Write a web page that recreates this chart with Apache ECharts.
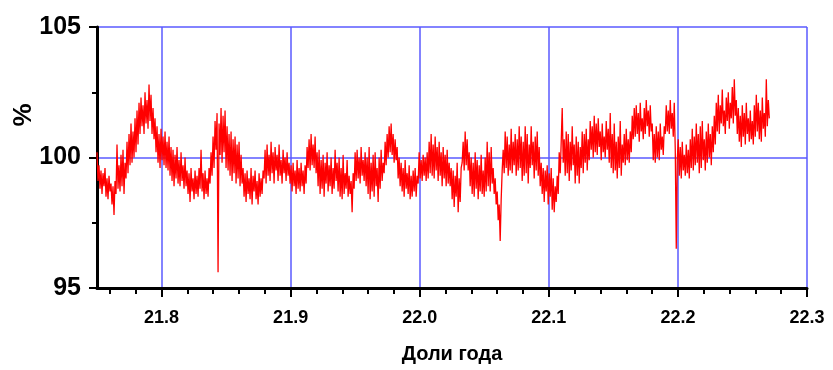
<!DOCTYPE html>
<html>
<head>
<meta charset="utf-8">
<script src="https://cdn.jsdelivr.net/npm/echarts@6/dist/echarts.min.js"></script>
<style>
html, body { margin: 0; padding: 0; background: #fff; }
#main { width: 833px; height: 370px; }
</style>
</head>
<body>
<div id="main"></div>
<script>
// time axis (fractions of year): first sample and step between samples
var X0 = 21.75;
var DX = 0.000775;

// relative value, %
var PCT = [
  100.2, 99.1, 99.7, 98.8, 99.5, 98.6, 99.4, 98.9, 99.6, 98.5,
  99.2, 98.4, 99.3, 98.7, 99.0, 98.2, 98.9, 97.8, 99.1, 98.6,
  100.5, 98.8, 99.7, 98.7, 100.1, 98.9, 100.3, 98.6, 99.8, 99.2,
  100.6, 99.4, 100.9, 99.7, 101.3, 99.8, 101.0, 100.0, 101.5, 100.2,
  101.8, 100.5, 102.1, 100.9, 102.3, 101.2, 102.0, 100.9, 102.5, 101.3,
  102.2, 101.1, 102.8, 101.4, 102.4, 100.9, 101.9, 100.7, 101.5, 100.2,
  101.2, 99.8, 100.9, 99.6, 101.1, 99.9, 100.8, 99.7, 101.0, 99.6,
  100.6, 99.5, 100.8, 99.3, 100.4, 99.1, 100.3, 98.9, 100.1, 99.2,
  100.4, 99.0, 99.9, 98.9, 100.2, 99.1, 99.7, 98.8, 100.0, 98.9,
  99.5, 98.6, 99.4, 98.3, 99.6, 98.7, 99.2, 98.4, 99.5, 98.6,
  99.3, 98.5, 99.6, 98.8, 100.3, 98.7, 99.4, 98.4, 99.5, 98.6,
  99.2, 98.5, 99.6, 99.0, 100.2, 99.3, 100.8, 99.6, 101.4, 100.3,
  101.7, 95.6, 101.3, 100.1, 101.9, 99.8, 101.6, 100.2, 101.8, 99.6,
  101.2, 99.5, 100.9, 99.3, 101.0, 99.1, 100.7, 99.4, 100.8, 99.0,
  100.5, 99.2, 100.6, 98.9, 100.1, 99.0, 99.6, 98.5, 99.4, 98.3,
  99.5, 98.6, 99.2, 98.4, 99.6, 98.2, 99.3, 98.7, 99.5, 98.4,
  99.1, 98.2, 99.4, 98.5, 99.2, 98.6, 99.5, 99.2, 100.3, 99.0,
  100.5, 99.3, 100.1, 99.1, 100.6, 99.4, 100.2, 99.0, 100.4, 99.5,
  100.1, 99.1, 100.5, 99.3, 99.9, 99.0, 100.3, 99.4, 100.0, 99.1,
  100.2, 99.3, 99.8, 99.0, 99.7, 98.7, 99.8, 98.9, 99.5, 98.6,
  99.9, 98.8, 99.6, 98.7, 99.8, 98.9, 99.5, 98.6, 99.7, 99.0,
  100.4, 99.6, 100.7, 99.5, 100.9, 99.7, 100.5, 99.6, 100.8, 99.4,
  100.2, 98.9, 100.3, 98.6, 99.9, 98.8, 100.1, 98.5, 99.8, 99.0,
  100.2, 98.7, 99.7, 98.9, 100.0, 98.6, 99.6, 98.8, 100.3, 99.1,
  99.8, 98.7, 100.0, 98.5, 99.6, 98.4, 100.1, 98.6, 99.4, 98.8,
  99.9, 98.5, 99.3, 98.6, 99.1, 97.9, 99.4, 98.8, 100.2, 99.1,
  100.3, 99.2, 100.0, 99.0, 100.4, 99.3, 99.9, 99.1, 100.2, 98.9,
  100.0, 98.6, 100.4, 98.4, 99.8, 98.7, 100.1, 98.5, 100.2, 98.9,
  99.6, 98.3, 100.0, 98.8, 100.3, 99.1, 99.8, 99.4, 100.6, 99.7,
  100.9, 100.0, 101.2, 100.2, 101.3, 100.1, 100.9, 99.8, 100.7, 99.9,
  100.4, 99.2, 100.0, 98.9, 99.8, 98.7, 99.6, 98.5, 99.9, 98.8,
  99.4, 98.6, 99.7, 98.4, 99.3, 98.5, 99.5, 98.7, 99.6, 98.5,
  99.3, 99.0, 100.2, 99.2, 99.9, 99.1, 100.1, 99.3, 100.0, 99.1,
  100.2, 99.2, 100.6, 99.4, 100.9, 99.3, 100.5, 99.2, 100.8, 99.5,
  100.4, 99.1, 100.6, 99.3, 100.2, 98.9, 100.4, 99.2, 100.1, 98.9,
  100.3, 99.0, 99.8, 98.9, 99.6, 98.4, 99.5, 98.1, 99.3, 98.5,
  99.8, 97.9, 99.2, 98.3, 99.6, 99.8, 100.6, 99.5, 101.0, 99.7,
  100.7, 99.5, 100.2, 98.9, 100.0, 98.6, 99.8, 98.5, 100.2, 98.8,
  99.9, 98.4, 99.7, 98.7, 100.1, 98.6, 99.5, 98.5, 100.0, 98.7,
  100.6, 98.9, 100.2, 98.7, 100.4, 99.0, 99.6, 98.6, 99.2, 98.2,
  98.7, 97.6, 98.2, 96.8, 98.4, 99.5, 100.3, 99.4, 101.0, 99.6,
  100.8, 99.3, 100.5, 99.5, 101.1, 99.4, 100.6, 99.7, 100.9, 99.3,
  100.7, 99.5, 101.2, 99.6, 100.8, 99.1, 100.6, 99.3, 101.2, 99.4,
  100.9, 99.0, 100.5, 99.6, 101.2, 99.7, 100.6, 99.2, 100.8, 99.5,
  101.0, 99.3, 100.4, 98.9, 99.8, 98.6, 99.6, 98.3, 99.5, 98.7,
  99.7, 98.2, 99.4, 98.5, 99.6, 98.0, 99.2, 97.9, 98.9, 98.3,
  99.3, 98.6, 100.2, 99.4, 100.6, 101.9, 99.8, 100.7, 99.3, 101.0,
  99.4, 100.9, 99.1, 100.6, 99.5, 101.2, 99.7, 100.5, 99.0, 100.8,
  99.3, 100.6, 99.0, 100.4, 99.6, 101.0, 99.4, 100.9, 99.8, 101.1,
  99.5, 100.7, 99.9, 101.4, 100.3, 101.2, 100.0, 101.6, 100.2, 101.3,
  100.1, 101.5, 100.4, 101.0, 99.9, 101.3, 100.2, 100.8, 100.0, 101.4,
  100.3, 101.1, 99.8, 101.7, 99.6, 100.9, 99.4, 101.3, 99.5, 100.6,
  99.2, 100.8, 99.6, 101.4, 99.3, 100.5, 99.8, 100.9, 99.7, 101.1,
  99.9, 100.7, 99.8, 101.0, 100.2, 101.6, 100.7, 101.9, 100.8, 102.0,
  100.9, 101.7, 100.6, 102.1, 101.0, 101.5, 100.7, 101.9, 100.9, 102.2,
  101.2, 101.8, 100.8, 102.0, 101.0, 101.3, 99.9, 100.9, 99.8, 101.2,
  100.0, 101.0, 99.9, 101.3, 100.3, 100.8, 100.1, 101.2, 100.9, 102.0,
  101.0, 101.8, 100.9, 102.2, 101.1, 101.7, 100.8, 102.1, 100.3, 96.5,
  99.9, 100.7, 99.3, 100.4, 99.2, 100.6, 99.5, 100.1, 99.3, 100.5,
  99.4, 100.3, 99.2, 100.7, 99.6, 101.1, 99.5, 100.8, 99.7, 101.3,
  99.8, 100.9, 99.4, 101.2, 99.6, 101.4, 99.9, 100.7, 99.5, 101.0,
  99.8, 101.3, 100.0, 100.9, 99.7, 101.2, 100.2, 101.6, 100.5, 102.1,
  101.0, 102.4, 100.9, 102.0, 101.3, 102.6, 101.2, 101.8, 100.9, 102.3,
  101.4, 102.5, 101.1, 102.1, 101.5, 102.7, 101.3, 103.0, 101.6, 102.2,
  100.9, 101.9, 100.6, 101.6, 100.4, 102.0, 100.8, 101.7, 100.5, 102.1,
  100.9, 101.5, 100.6, 101.8, 100.7, 101.4, 100.5, 102.0, 100.8, 102.4,
  101.0, 102.1, 100.7, 101.8, 100.6, 102.3, 101.1, 101.7, 100.8, 103.0,
  101.2, 102.2, 101.5
];

// tick positions along the time axis (minor every 0.02, labelled every 0.1)
var X_TICKS = [
  '21.75', '21.76', '21.77', '21.78', '21.79', '21.80', '21.81', '21.82', '21.83', '21.84',
  '21.85', '21.86', '21.87', '21.88', '21.89', '21.90', '21.91', '21.92', '21.93', '21.94',
  '21.95', '21.96', '21.97', '21.98', '21.99', '22.00', '22.01', '22.02', '22.03', '22.04',
  '22.05', '22.06', '22.07', '22.08', '22.09', '22.10', '22.11', '22.12', '22.13', '22.14',
  '22.15', '22.16', '22.17', '22.18', '22.19', '22.20', '22.21', '22.22', '22.23', '22.24',
  '22.25', '22.26', '22.27', '22.28', '22.29', '22.30'
];

var Y_MIN = 95, Y_MAX = 105, Y_STEP = 5;

var seriesData = PCT.map(function (v, i) { return [X0 + i * DX, v]; });

var FONT = '"Liberation Sans", Arial, sans-serif';
var GRIDBLUE = '#5a5aff';

function isMajor(i) { return i % 10 === 5; }
function isMinor(i) { return i % 2 === 1; }

var chart = echarts.init(document.getElementById('main'));
var option = {
    backgroundColor: '#fff',
    animation: false,
    grid: { left: 97, top: 27, right: 26, bottom: 82, containLabel: false, outerBoundsMode: 'none' },
    xAxis: [
        {
            // data axis, not drawn
            type: 'value', position: 'bottom',
            min: 21.75, max: 22.3,
            show: false
        },
        {
            // minor ticks + axis line
            type: 'category', position: 'bottom',
            data: X_TICKS, boundaryGap: false,
            axisLine: { show: true, onZero: false, lineStyle: { color: '#000', width: 3 } },
            axisTick: { show: true, inside: false, length: 6, interval: isMinor,
                lineStyle: { color: '#000', width: 2 } },
            axisLabel: { show: false },
            splitLine: { show: false }
        },
        {
            // major ticks, labels, grid lines
            type: 'category', position: 'bottom',
            data: X_TICKS, boundaryGap: false,
            name: 'Доли года', nameLocation: 'middle', nameGap: 56,
            nameTextStyle: { fontFamily: FONT, fontWeight: 'bold', fontSize: 20, color: '#000' },
            axisLine: { show: false, onZero: false },
            axisTick: { show: true, inside: false, length: 9, interval: isMajor,
                lineStyle: { color: '#000', width: 2 } },
            axisLabel: {
                show: true, interval: isMajor, margin: 21,
                fontFamily: FONT, fontWeight: 'bold', fontSize: 18, color: '#000',
                formatter: function (v) { return Number(v).toFixed(1); }
            },
            splitLine: { show: true, interval: isMajor, lineStyle: { color: GRIDBLUE, width: 1.5 } }
        }
    ],
    yAxis: {
        type: 'value',
        min: Y_MIN, max: Y_MAX, interval: Y_STEP,
        axisLine: { show: true, onZero: false, lineStyle: { color: '#000', width: 3 } },
        axisTick: { show: true, inside: false, length: 8, lineStyle: { color: '#000', width: 2 } },
        minorTick: { show: true, splitNumber: 2, length: 5, lineStyle: { color: '#000', width: 2 } },
        axisLabel: { margin: 16, fontFamily: FONT, fontWeight: 'bold', fontSize: 25, color: '#000' },
        splitLine: { show: true, lineStyle: { color: GRIDBLUE, width: 1.5 } }
    },
    graphic: [
        {
            type: 'text', x: 24, y: 115, rotation: Math.PI / 2,
            style: { text: '%', align: 'center', verticalAlign: 'middle',
                font: 'bold 26px ' + FONT, fill: '#000' }
        }
    ],
    series: [
        {
            type: 'line',
            xAxisIndex: 0,
            data: seriesData,
            showSymbol: false,
            symbol: 'none',
            sampling: null,
            lineStyle: { color: '#ff0000', width: 1.3 },
            z: 3
        }
    ]
};
chart.setOption(option);
</script>
</body>
</html>
